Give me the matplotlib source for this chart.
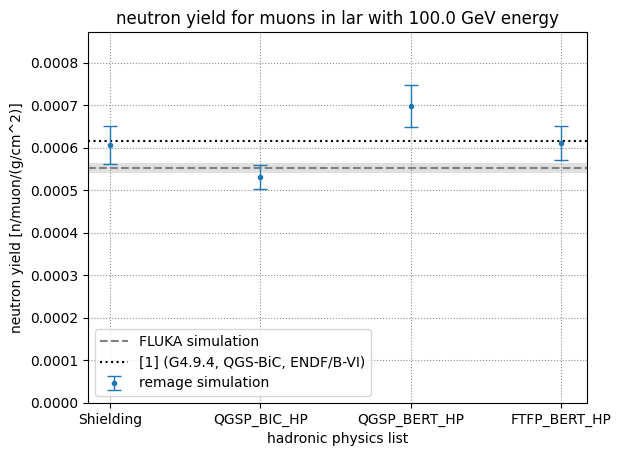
import matplotlib
matplotlib.use("Agg")
import matplotlib.pyplot as plt
import numpy as np

physics_lists = ["Shielding", "QGSP_BIC_HP", "QGSP_BERT_HP", "FTFP_BERT_HP"]
yields = [0.000607, 0.000531, 0.000698, 0.000611]
yield_errs = [0.000045, 0.000028, 0.000050, 0.000040]
fluka_yield = 0.000553
fluka_err = 0.000011
ref_yield = 0.000615

fig = plt.figure(figsize=(6.21, 4.55), dpi=100)
ax = fig.add_axes([0.1417, 0.1143, 0.8036, 0.8154])

x = np.arange(len(physics_lists))
xlim = (-0.146, 3.17)

ax.fill_between(xlim, fluka_yield - fluka_err, fluka_yield + fluka_err,
                color="lightgray", alpha=0.7, linewidth=0)
ax.axhline(fluka_yield, color="gray", linestyle="--", label="FLUKA simulation")
ax.axhline(ref_yield, color="black", linestyle=":", label="[1] (G4.9.4, QGS-BiC, ENDF/B-VI)")
ax.errorbar(x, yields, yerr=yield_errs, fmt=".", capsize=5, elinewidth=1,
            capthick=1, color="tab:blue", label="remage simulation")

ax.set_xticks(x)
ax.set_xticklabels(physics_lists)
ax.set_xlim(xlim)
ax.set_ylim(0, 1.25 * max(yields))
ax.grid(color="gray", linestyle=":", alpha=0.9)
ax.set_xlabel("hadronic physics list")
ax.set_ylabel("neutron yield [n/muon/(g/cm^2)]")
ax.set_title("neutron yield for muons in lar with 100.0 GeV energy")
ax.legend(loc="lower left")

fig.savefig("out.png", dpi=100)
